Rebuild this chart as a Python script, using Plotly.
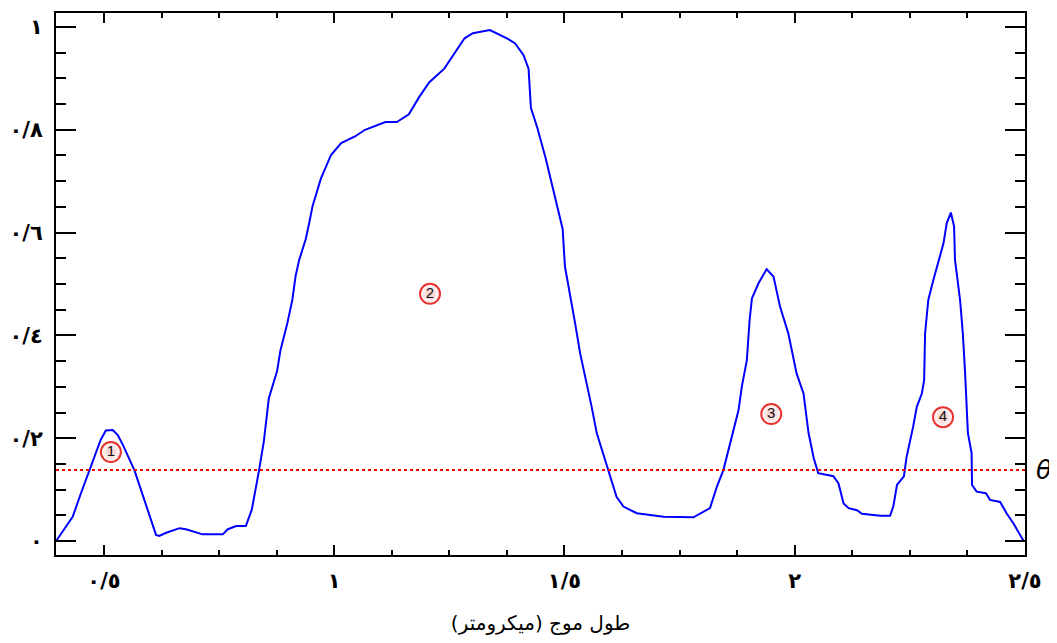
import plotly.graph_objects as go

# Spectrum curve (wavelength in micrometres, normalized value)
wavelength = [0.396, 0.432, 0.450, 0.468, 0.493, 0.504, 0.519, 0.530, 0.541, 0.566,
              0.591, 0.613, 0.620, 0.635, 0.664, 0.678, 0.714, 0.758, 0.769, 0.787,
              0.808, 0.821, 0.836, 0.847, 0.858, 0.876, 0.883, 0.898, 0.909, 0.916,
              0.924, 0.938, 0.946, 0.953, 0.971, 0.993, 1.015, 1.045, 1.067, 1.111,
              1.136, 1.162, 1.184, 1.206, 1.239, 1.261, 1.283, 1.301, 1.338, 1.375,
              1.393, 1.411, 1.422, 1.427, 1.441, 1.459, 1.470, 1.485, 1.496, 1.501,
              1.512, 1.523, 1.534, 1.545, 1.559, 1.570, 1.588, 1.599, 1.613, 1.628,
              1.657, 1.715, 1.780, 1.816, 1.831, 1.845, 1.863, 1.878, 1.885, 1.896,
              1.902, 1.907, 1.921, 1.939, 1.954, 1.968, 1.986, 2.004, 2.019, 2.030,
              2.041, 2.051, 2.084, 2.095, 2.106, 2.117, 2.135, 2.146, 2.186, 2.207,
              2.214, 2.222, 2.237, 2.243, 2.257, 2.265, 2.276, 2.281, 2.283, 2.290,
              2.301, 2.312, 2.323, 2.330, 2.339, 2.346, 2.348, 2.359, 2.365, 2.370,
              2.376, 2.384, 2.385, 2.395, 2.415, 2.424, 2.446, 2.460, 2.475, 2.497]
intensity = [0.000, 0.047, 0.093, 0.138, 0.197, 0.215, 0.216, 0.206, 0.187, 0.138,
             0.073, 0.012, 0.010, 0.016, 0.025, 0.023, 0.013, 0.013, 0.023, 0.029,
             0.029, 0.061, 0.134, 0.193, 0.278, 0.331, 0.370, 0.423, 0.469, 0.515,
             0.547, 0.587, 0.620, 0.652, 0.705, 0.751, 0.774, 0.787, 0.800, 0.815,
             0.815, 0.830, 0.863, 0.892, 0.919, 0.948, 0.978, 0.988, 0.994, 0.978,
             0.968, 0.945, 0.919, 0.843, 0.804, 0.745, 0.705, 0.652, 0.607, 0.534,
             0.482, 0.424, 0.365, 0.320, 0.261, 0.210, 0.158, 0.125, 0.086, 0.067,
             0.054, 0.047, 0.046, 0.064, 0.106, 0.138, 0.203, 0.255, 0.300, 0.352,
             0.430, 0.472, 0.501, 0.529, 0.514, 0.456, 0.404, 0.326, 0.287, 0.210,
             0.162, 0.132, 0.126, 0.112, 0.073, 0.064, 0.060, 0.053, 0.049, 0.049,
             0.067, 0.109, 0.126, 0.164, 0.222, 0.261, 0.287, 0.313, 0.404, 0.469,
             0.508, 0.544, 0.579, 0.618, 0.639, 0.612, 0.547, 0.469, 0.404, 0.326,
             0.210, 0.171, 0.109, 0.096, 0.093, 0.080, 0.076, 0.054, 0.034, 0.000]

threshold = 0.138

# Region labels
region_x = [0.515, 1.208, 1.949, 2.322]
region_y = [0.173, 0.481, 0.247, 0.241]
region_text = ["1", "2", "3", "4"]

x_tickvals = [0.5, 1.0, 1.5, 2.0, 2.5]
x_ticktext = ["٠/٥", "١", "١/٥", "٢", "٢/٥"]
y_tickvals = [0, 0.2, 0.4, 0.6, 0.8, 1.0]
y_ticktext = ["٠", "٠/٢", "٠/٤", "٠/٦", "٠/٨", "١"]

x_title = "طول موج (میکرومتر)"

fig = go.Figure()
fig.add_trace(go.Scatter(x=wavelength, y=intensity, mode="lines",
                         line=dict(color="#0000ff", width=2), showlegend=False,
                         hoverinfo="skip"))
fig.add_trace(go.Scatter(x=region_x, y=region_y, mode="markers+text",
                         text=region_text, textposition="middle center",
                         textfont=dict(family="Liberation Sans, Arial", size=15, color="#111111"),
                         marker=dict(size=20, color="white",
                                     line=dict(color="#e8322e", width=2),
                                     gradient=dict(type="radial", color="#f8c4c0")),
                         showlegend=False, hoverinfo="skip"))

fig.add_shape(type="line", xref="paper", x0=0, x1=1, yref="y", y0=threshold, y1=threshold,
              line=dict(color="red", width=2, dash="dot"))
fig.add_annotation(xref="paper", x=1, yref="y", y=threshold, text="<i>θ</i>",
                   showarrow=False, xanchor="left", xshift=9, yshift=0,
                   font=dict(family="DejaVu Sans", size=26, color="black"))

fig.update_layout(
    width=1049, height=635,
    margin=dict(l=48, r=32, t=5, b=88, autoexpand=False),
    paper_bgcolor="white", plot_bgcolor="white",
)
fig.update_xaxes(range=[0.3958, 2.5], showgrid=False, zeroline=False, automargin=False,
                 showline=True, linecolor="black", linewidth=2, mirror="ticks",
                 ticks="inside", ticklen=10, tickwidth=2, tickcolor="black",
                 tickvals=x_tickvals, ticktext=x_ticktext, ticklabelstandoff=6,
                 tickfont=dict(family="DejaVu Sans", size=21, color="black", weight="bold"),
                 minor=dict(ticks="inside", dtick=0.125, tick0=0.5, ticklen=5,
                            tickwidth=2, tickcolor="black", showgrid=False),
                 title=dict(text=x_title, standoff=24,
                            font=dict(family="DejaVu Sans", size=20, color="black")))
fig.update_yaxes(range=[-0.0272, 1.0272], showgrid=False, zeroline=False, automargin=False,
                 showline=True, linecolor="black", linewidth=2, mirror="ticks",
                 ticks="inside", ticklen=20, tickwidth=2, tickcolor="black",
                 tickvals=y_tickvals, ticktext=y_ticktext, ticklabelstandoff=7,
                 tickfont=dict(family="DejaVu Sans", size=21, color="black", weight="bold"),
                 minor=dict(ticks="inside", dtick=0.05, tick0=0, ticklen=10,
                            tickwidth=2, tickcolor="black", showgrid=False))

fig.write_html("out.html")
